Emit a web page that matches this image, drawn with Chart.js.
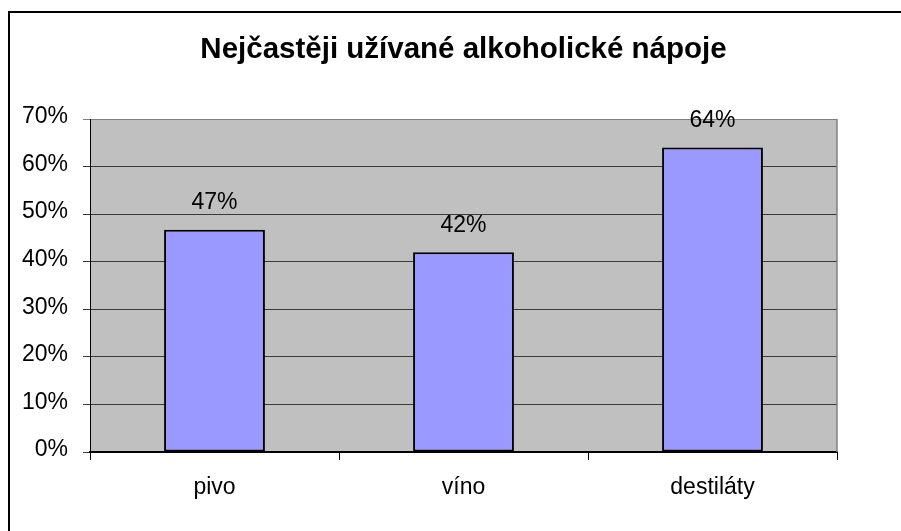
<!DOCTYPE html>
<html>
<head>
<meta charset="utf-8">
<script src="https://cdn.jsdelivr.net/npm/chart.js@4/dist/chart.umd.min.js"></script>
<style>
  html, body { margin: 0; padding: 0; background: #fff; }
  #wrap { width: 901px; height: 531px; }
</style>
</head>
<body>
<div id="wrap"><canvas id="c" width="901" height="531"></canvas></div>
<script>
const titleText = 'Nejčastěji užívané alkoholické nápoje';
const categories = ['pivo', 'víno', 'destiláty'];
const values = [46.7, 42.0, 64.0];
const valueLabels = ['47%', '42%', '64%'];
const yMax = 70;
const yStep = 10;

const FONT = 'Arial, "Liberation Sans", sans-serif';

const framePlugin = {
  id: 'frame',
  beforeDraw(chart) {
    const ctx = chart.ctx;
    const a = chart.chartArea;
    ctx.save();
    ctx.fillStyle = '#ffffff';
    ctx.fillRect(0, 0, chart.width, chart.height);
    // outer frame (only top and left visible)
    ctx.strokeStyle = '#000000';
    ctx.lineWidth = 2;
    ctx.strokeRect(9, 12, chart.width + 20, chart.height + 20);
    // plot background
    ctx.fillStyle = '#C0C0C0';
    ctx.fillRect(a.left, a.top, a.right - a.left, a.bottom - a.top);
    ctx.restore();
  },
  afterDatasetsDraw(chart) {
    const ctx = chart.ctx;
    const a = chart.chartArea;
    ctx.save();
    // right border of plot area
    ctx.strokeStyle = '#808080';
    ctx.lineWidth = 1.5;
    ctx.beginPath();
    ctx.moveTo(a.right, a.top);
    ctx.lineTo(a.right, a.bottom);
    ctx.stroke();
    // value labels
    const meta = chart.getDatasetMeta(0);
    ctx.fillStyle = '#000000';
    ctx.font = '23px ' + FONT;
    ctx.textAlign = 'center';
    ctx.textBaseline = 'middle';
    meta.data.forEach((bar, i) => {
      ctx.fillText(valueLabels[i], bar.x, bar.y - 27);
    });
    ctx.restore();
  }
};

new Chart(document.getElementById('c'), {
  type: 'bar',
  data: {
    labels: categories,
    datasets: [{
      data: values,
      backgroundColor: '#9999FF',
      borderColor: '#000000',
      borderWidth: 2,
      borderSkipped: false,
      categoryPercentage: 1.0,
      barPercentage: 0.405
    }]
  },
  options: {
    responsive: false,
    animation: false,
    devicePixelRatio: 1,
    layout: { padding: { left: 0, right: 64, top: 0, bottom: 0 } },
    plugins: {
      legend: { display: false },
      tooltip: { enabled: false },
      title: {
        display: true,
        text: titleText,
        color: '#000000',
        fullSize: false,
        font: { family: FONT, size: 29.5, weight: 'bold', lineHeight: 1.2 },
        padding: { top: 31.8, bottom: 119 - 31.8 - 35.4 }
      }
    },
    scales: {
      x: {
        offset: true,
        grid: {
          offset: true,
          drawOnChartArea: false,
          drawTicks: true,
          tickLength: 8,
          color: '#000000',
          lineWidth: 1
        },
        border: { display: true, color: '#000000', width: 2 },
        ticks: {
          color: '#000000',
          font: { family: FONT, size: 23 },
          padding: 14,
          maxRotation: 0
        },
        afterFit(scale) { scale.height = 531 - 452; }
      },
      y: {
        min: 0,
        max: yMax,
        grid: {
          drawOnChartArea: true,
          drawTicks: true,
          tickLength: 7,
          color: (c) => (c.tick && c.tick.value === yMax) ? '#808080' : '#3a3a3a',
          lineWidth: 1
        },
        border: { display: true, color: '#000000', width: 1 },
        ticks: {
          stepSize: yStep,
          color: '#000000',
          font: { family: FONT, size: 23 },
          padding: 15,
          labelOffset: -2,
          callback: (v) => v + '%'
        },
        afterFit(scale) { scale.width = 90; }
      }
    }
  },
  plugins: [framePlugin]
});
</script>
</body>
</html>
